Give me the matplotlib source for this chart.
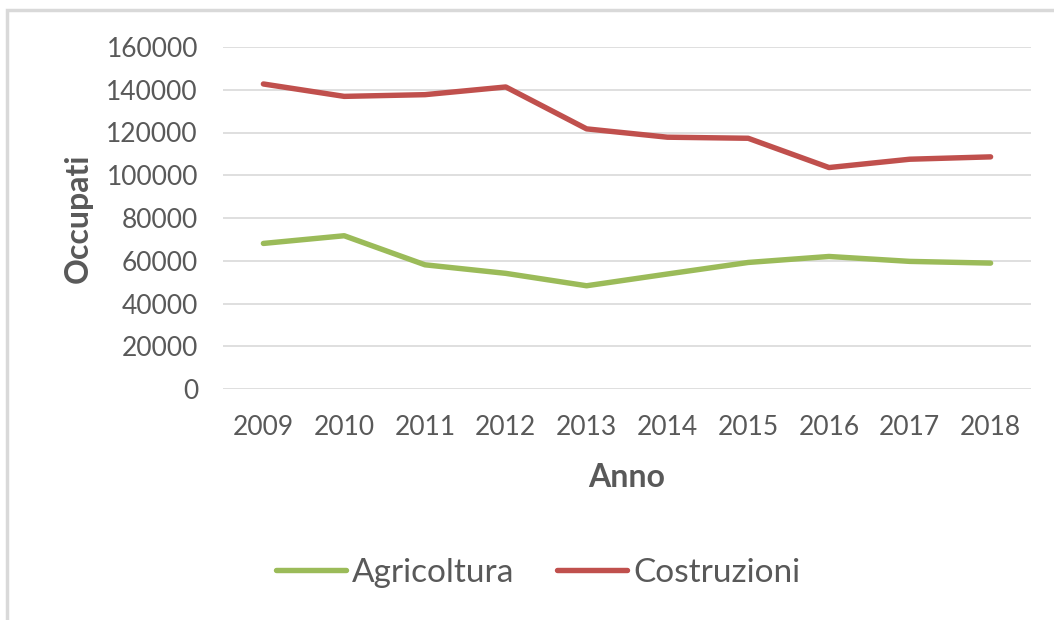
import matplotlib
matplotlib.use("Agg")
import matplotlib.pyplot as plt
from matplotlib.patches import Rectangle

years = ["2009", "2010", "2011", "2012", "2013", "2014", "2015", "2016", "2017", "2018"]
agricoltura = [68100, 71700, 58100, 54100, 48300, 53800, 59200, 62000, 59700, 58900]
costruzioni = [142700, 136900, 137700, 141300, 121700, 117800, 117300, 103600, 107500, 108600]
y_ticks = [0, 20000, 40000, 60000, 80000, 100000, 120000, 140000, 160000]

plt.rcParams['font.family'] = ['Lato', 'DejaVu Sans']
txt = '#595959'

fig = plt.figure(figsize=(10.54, 6.2), dpi=100)
ax = fig.add_axes([223/1054, 1 - 389/620, (1031 - 223)/1054, (389 - 47)/620])

x = list(range(len(years)))
ax.plot(x, agricoltura, color='#9BBB59', lw=3.9, solid_capstyle='round', solid_joinstyle='round', label='Agricoltura')
ax.plot(x, costruzioni, color='#C0504D', lw=3.9, solid_capstyle='round', solid_joinstyle='round', label='Costruzioni')

ax.set_xlim(-0.5, len(years) - 0.5)
ax.set_ylim(0, 160000)
ax.set_yticks(y_ticks)
ax.set_yticklabels([str(v) for v in y_ticks])
ax.set_xticks(x)
ax.set_xticklabels(years)
ax.grid(axis='y', color='#D9D9D9', lw=1.2)
ax.set_axisbelow(True)
for s in ax.spines.values():
    s.set_visible(False)
ax.tick_params(axis='both', length=0, labelsize=19, colors=txt)
ax.tick_params(axis='y', pad=18)
ax.tick_params(axis='x', pad=19)

ax.set_xlabel('Anno', fontsize=23, fontweight='bold', color=txt, labelpad=16)
ax.set_ylabel('Occupati', fontsize=23, fontweight='bold', color=txt, labelpad=10)

leg = fig.legend(loc='center', bbox_to_anchor=(538/1054, 1 - 573/620), ncol=2, frameon=False,
                 fontsize=24, handlelength=2.1, handletextpad=0.18, columnspacing=1.3)
for t in leg.get_texts():
    t.set_color(txt)

fig.patches.append(Rectangle((7/1054, -0.1), 1.2, (620 - 10)/620 + 0.1, transform=fig.transFigure,
                             fill=False, edgecolor='#D9D9D9', lw=2.5, figure=fig))

fig.savefig('out.png', dpi=100, facecolor='white')
